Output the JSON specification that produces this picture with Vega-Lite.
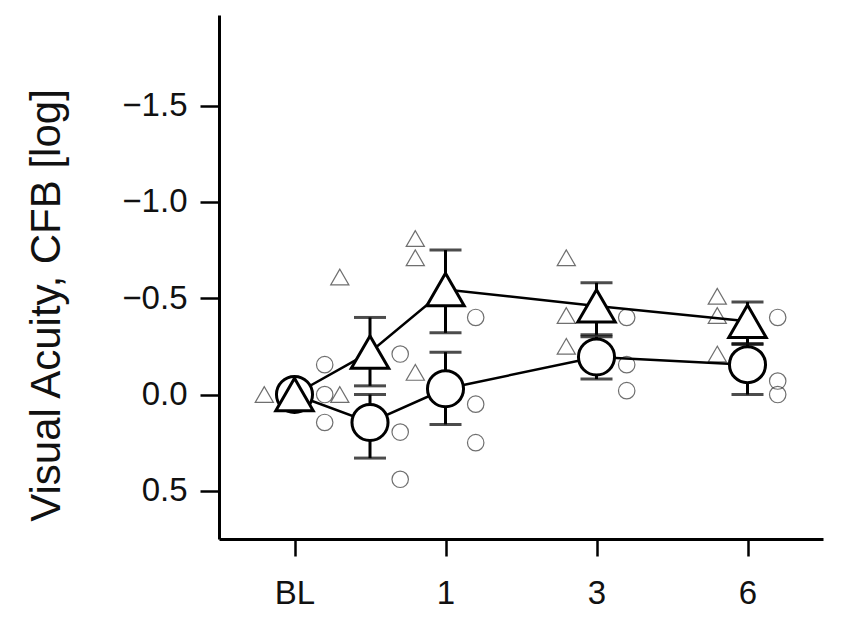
{
  "$schema": "https://vega.github.io/schema/vega-lite/v6.json",
  "autosize": "none",
  "width": 604,
  "height": 524,
  "padding": {"left": 219, "top": 15, "right": 25, "bottom": 100},
  "background": "white",
  "config": {"view": {"stroke": null}, "font": "Liberation Sans"},
  "datasets": {
    "means": [
      {"group": "circle", "pos": 0, "mean": 0.0, "lo": null, "hi": null},
      {"group": "circle", "pos": 0.5, "mean": 0.145, "lo": 0.0, "hi": 0.33},
      {"group": "circle", "pos": 1, "mean": -0.03, "lo": -0.22, "hi": 0.155},
      {"group": "circle", "pos": 2, "mean": -0.195, "lo": -0.3, "hi": -0.08},
      {"group": "circle", "pos": 3, "mean": -0.155, "lo": -0.26, "hi": 0.0},
      {"group": "triangle", "pos": 0, "mean": 0.0, "lo": null, "hi": null},
      {"group": "triangle", "pos": 0.5, "mean": -0.22, "lo": -0.4, "hi": -0.045},
      {"group": "triangle", "pos": 1, "mean": -0.545, "lo": -0.75, "hi": -0.32},
      {"group": "triangle", "pos": 2, "mean": -0.46, "lo": -0.58, "hi": -0.31},
      {"group": "triangle", "pos": 3, "mean": -0.38, "lo": -0.48, "hi": -0.265}
    ],
    "indiv": [
      {"group": "triangle", "pos": -0.2, "val": 0.0},
      {"group": "triangle", "pos": 0.3, "val": -0.61},
      {"group": "triangle", "pos": 0.3, "val": 0.0},
      {"group": "triangle", "pos": 0.8, "val": -0.81},
      {"group": "triangle", "pos": 0.8, "val": -0.71},
      {"group": "triangle", "pos": 0.8, "val": -0.115},
      {"group": "triangle", "pos": 1.8, "val": -0.71},
      {"group": "triangle", "pos": 1.8, "val": -0.41},
      {"group": "triangle", "pos": 1.8, "val": -0.25},
      {"group": "triangle", "pos": 2.8, "val": -0.51},
      {"group": "triangle", "pos": 2.8, "val": -0.41},
      {"group": "triangle", "pos": 2.8, "val": -0.21},
      {"group": "circle", "pos": 0.2, "val": -0.155},
      {"group": "circle", "pos": 0.2, "val": 0.0},
      {"group": "circle", "pos": 0.2, "val": 0.145},
      {"group": "circle", "pos": 0.7, "val": -0.21},
      {"group": "circle", "pos": 0.7, "val": 0.195},
      {"group": "circle", "pos": 0.7, "val": 0.44},
      {"group": "circle", "pos": 1.2, "val": -0.4},
      {"group": "circle", "pos": 1.2, "val": 0.05},
      {"group": "circle", "pos": 1.2, "val": 0.25},
      {"group": "circle", "pos": 2.2, "val": -0.4},
      {"group": "circle", "pos": 2.2, "val": -0.155},
      {"group": "circle", "pos": 2.2, "val": -0.02},
      {"group": "circle", "pos": 3.2, "val": -0.4},
      {"group": "circle", "pos": 3.2, "val": -0.07},
      {"group": "circle", "pos": 3.2, "val": 0.0}
    ]
  },
  "encoding": {
    "x": {
      "field": "pos", "type": "quantitative",
      "scale": {"domain": [-0.5, 3.5], "nice": false, "zero": false},
      "axis": {
        "title": null, "values": [0, 1, 2, 3],
        "labelExpr": "datum.value == 0 ? 'BL' : datum.value == 1 ? '1' : datum.value == 2 ? '3' : '6'",
        "labelFont": "Liberation Sans", "labelFontSize": 33, "labelColor": "#111",
        "labelPadding": 21, "tickSize": 17, "tickWidth": 2.5, "tickColor": "black",
        "domainColor": "black", "domainWidth": 3, "grid": false, "labelFlush": false
      }
    },
    "y": {
      "type": "quantitative",
      "scale": {"domain": [-1.97, 0.75], "nice": false, "zero": false, "reverse": true},
      "axis": {
        "title": "Visual Acuity, CFB [log]", "values": [-1.5, -1.0, -0.5, 0.0, 0.5],
        "format": ".1f",
        "labelFont": "Liberation Sans", "labelFontSize": 33, "labelColor": "#111",
        "labelPadding": 13, "tickSize": 19, "tickWidth": 2.5, "tickColor": "black",
        "domainColor": "black", "domainWidth": 3, "grid": false,
        "titleFont": "Liberation Sans", "titleFontSize": 42, "titleFontWeight": "normal",
        "titleColor": "#111", "titleX": -173, "titleY": 290, "titleAngle": -90,
        "titleAlign": "center", "titleBaseline": "middle"
      }
    }
  },
  "layer": [
    {
      "mark": {"type": "rule", "color": "#b0b0b0", "strokeWidth": 2.5, "strokeDash": [16, 10]},
      "encoding": {"y": {"datum": 0}, "x": null}
    },
    {
      "data": {"name": "indiv"},
      "transform": [{"filter": "datum.group == 'circle'"}],
      "mark": {"type": "point", "shape": "circle", "filled": false, "stroke": "#333", "strokeWidth": 1.2, "size": 270},
      "encoding": {"y": {"field": "val"}}
    },
    {
      "data": {"name": "indiv"},
      "transform": [{"filter": "datum.group == 'triangle'"}],
      "mark": {"type": "point", "shape": "triangle-up", "filled": false, "stroke": "#333", "strokeWidth": 1.2, "size": 330},
      "encoding": {"y": {"field": "val"}}
    },
    {
      "data": {"name": "means"},
      "transform": [{"filter": "datum.lo != null"}],
      "mark": {"type": "rule", "color": "black", "strokeWidth": 3},
      "encoding": {"y": {"field": "lo"}, "y2": {"field": "hi"}}
    },
    {
      "data": {"name": "means"},
      "transform": [{"filter": "datum.lo != null"}],
      "mark": {"type": "tick", "orient": "horizontal", "color": "black", "size": 32, "thickness": 3},
      "encoding": {"y": {"field": "lo"}}
    },
    {
      "data": {"name": "means"},
      "transform": [{"filter": "datum.lo != null"}],
      "mark": {"type": "tick", "orient": "horizontal", "color": "black", "size": 32, "thickness": 3},
      "encoding": {"y": {"field": "hi"}}
    },
    {
      "data": {"name": "means"},
      "mark": {"type": "line", "color": "black", "strokeWidth": 2.5},
      "encoding": {"y": {"field": "mean"}, "detail": {"field": "group"}, "order": {"field": "pos"}}
    },
    {
      "data": {"name": "means"},
      "transform": [{"filter": "datum.group == 'circle'"}],
      "mark": {"type": "point", "shape": "circle", "filled": true, "fill": "white", "stroke": "black", "strokeWidth": 3, "size": 1300, "opacity": 1},
      "encoding": {"y": {"field": "mean"}}
    },
    {
      "data": {"name": "means"},
      "transform": [{"filter": "datum.group == 'triangle'"}],
      "mark": {"type": "point", "shape": "triangle-up", "filled": true, "fill": "white", "stroke": "black", "strokeWidth": 3, "size": 1400, "opacity": 1},
      "encoding": {"y": {"field": "mean"}}
    }
  ]
}
